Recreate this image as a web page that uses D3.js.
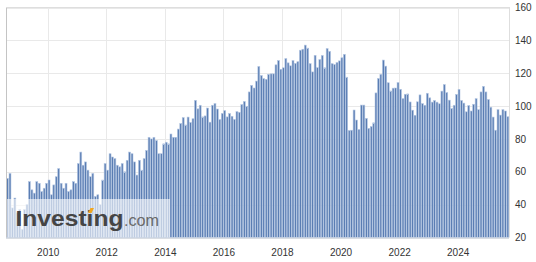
<!DOCTYPE html>
<html><head><meta charset="utf-8">
<script src="https://cdn.jsdelivr.net/npm/d3@7"></script>
<style>
html,body{margin:0;padding:0;background:#fff;}
svg{display:block;}
text{font-family:"Liberation Sans", Arial, sans-serif;}
</style></head><body>
<svg id="chart" width="536" height="262"></svg>
<script>
// Monthly values, one array per year (2008 starts in August, 2025 ends in September)
const v2008 = [56, 59, 38, 44, 35];
const v2009 = [37, 25, 37, 40, 54, 49, 47, 54, 53, 48, 50, 53];
const v2010 = [55, 46, 52, 57, 62, 53, 50, 53, 48, 49, 54, 53];
const v2011 = [65, 72, 64, 66, 61, 57, 59, 45, 46, 40, 55, 65];
const v2012 = [61, 71, 69, 68, 64, 63, 65, 60, 67, 72, 71, 66];
const v2013 = [58, 67, 61, 68, 73, 81, 80, 81, 79, 71, 71, 77];
const v2014 = [78, 77, 83, 81, 81, 86, 89.5, 93, 88.5, 93.3, 90, 92.3];
const v2015 = [103.5, 98.3, 100.5, 93.4, 94, 98.8, 90.2, 100.5, 101.5, 98.2, 91.8, 95.5];
const v2016 = [97.2, 93.4, 95.5, 93.8, 91.9, 96.6, 96.2, 100.9, 102.8, 99.9, 108.6, 112.6];
const v2017 = [111, 115.2, 124.1, 118.6, 116.7, 116.3, 119.3, 119.6, 119.6, 125.1, 127.7, 122.4];
const v2018 = [123.3, 128.9, 126.3, 124.5, 127.7, 126, 127, 134, 134.6, 137.1, 135.3, 125.8];
const v2019 = [120.8, 130.9, 123.4, 128.3, 130.8, 123.3, 135, 133.3, 125.8, 125.3, 126.5, 127.5];
const v2020 = [129.4, 131.5, 117.6, 85.1, 85.3, 97.6, 91.5, 85.7, 100.6, 100.6, 92.5, 86.4];
const v2021 = [87.5, 89.8, 108, 116.8, 119.3, 128, 124.3, 114.2, 109.2, 110.9, 111, 114.3];
const v2022 = [110.2, 104.5, 107.2, 107.4, 102.5, 97.5, 94.4, 102.6, 106.8, 101.5, 100.5, 107.8];
const v2023 = [105, 102.4, 103.4, 102.4, 101.4, 109.1, 113.1, 108.2, 103.6, 98.6, 100.5, 107.1];
const v2024 = [110.2, 103.4, 101.8, 96.5, 100.4, 97, 101.1, 104.5, 97.8, 108.6, 112, 108.6];
const v2025 = [104, 99.3, 93.3, 85.3, 97.8, 94.5, 97.8, 97, 93.5];

const firstYear = 2008, firstMonthIndex = 7; // August 2008
const yTicks = [20, 40, 60, 80, 100, 120, 140, 160];
const xTickYears = [2010, 2012, 2014, 2016, 2018, 2020, 2022, 2024];

const values = [].concat(v2008, v2009, v2010, v2011, v2012, v2013, v2014, v2015,
  v2016, v2017, v2018, v2019, v2020, v2021, v2022, v2023, v2024, v2025);
const data = values.map((v, i) => ({ date: new Date(firstYear, firstMonthIndex + i, 18), value: v }));

const svg = d3.select("#chart");
const L = 6, R = 509, T = 7.5, B = 237.5;

const x = d3.scaleTime()
  .domain([new Date(2008, 6, 30), new Date(2025, 9, 2)])
  .range([L, R]);
const y = d3.scaleLinear().domain([20, 160]).range([B, T]);

// gridlines
svg.append("g").selectAll("line").data(yTicks).join("line")
  .attr("x1", L).attr("x2", R)
  .attr("y1", d => Math.round(y(d)) + 0.5).attr("y2", d => Math.round(y(d)) + 0.5)
  .attr("stroke", "#e9e9e9");
svg.append("g").selectAll("line").data(xTickYears).join("line")
  .attr("x1", d => Math.round(x(new Date(d, 0, 1))) + 0.5)
  .attr("x2", d => Math.round(x(new Date(d, 0, 1))) + 0.5)
  .attr("y1", T).attr("y2", B)
  .attr("stroke", "#e9e9e9");

// bars
const bw = 1.9;
svg.append("g").selectAll("rect").data(data).join("rect")
  .attr("x", d => x(d.date) - bw / 2)
  .attr("width", bw)
  .attr("y", d => y(d.value))
  .attr("height", d => B - y(d.value))
  .attr("fill", "#5a7db3")
  .attr("stroke", "#b6c8e3")
  .attr("stroke-width", 0.6);

// watermark
const wm = svg.append("g");
wm.append("rect").attr("x", L + 1).attr("y", 199).attr("width", 163).attr("height", B - 199)
  .attr("fill", "#ffffff").attr("fill-opacity", 0.6);
wm.append("text").attr("x", 15.5).attr("y", 226)
  .attr("font-size", 22).attr("font-weight", "bold")
  .attr("textLength", 108).attr("lengthAdjust", "spacingAndGlyphs")
  .attr("fill", "#454545").text("Investing");
wm.append("text").attr("x", 124).attr("y", 226)
  .attr("font-size", 16).attr("textLength", 35).attr("lengthAdjust", "spacingAndGlyphs")
  .attr("fill", "#6a6a6a").text(".com");
wm.append("polygon").attr("points", "88,213 90.5,208 94,208 91.5,213")
  .attr("fill", "#f2a61d");

// frame
svg.append("line").attr("x1", L + 0.5).attr("x2", L + 0.5).attr("y1", 7).attr("y2", B).attr("stroke", "#c4c4c4");
svg.append("line").attr("x1", L).attr("x2", R).attr("y1", 7.5).attr("y2", 7.5).attr("stroke", "#dedede");
svg.append("line").attr("x1", R + 0.5).attr("x2", R + 0.5).attr("y1", 7).attr("y2", B).attr("stroke", "#dedede");
svg.append("line").attr("x1", L).attr("x2", R).attr("y1", B + 0.5).attr("y2", B + 0.5).attr("stroke", "#c9d1dd");

// axes
const yAxis = svg.append("g").attr("transform", `translate(${R},0)`)
  .call(d3.axisRight(y).tickValues(yTicks).tickSize(0).tickPadding(6));
yAxis.select(".domain").remove();
yAxis.selectAll("text").attr("font-size", 10).attr("fill", "#333").attr("font-family", "Liberation Sans, Arial, sans-serif");

const xAxis = svg.append("g").attr("transform", `translate(0,${B})`)
  .call(d3.axisBottom(x).tickValues(xTickYears.map(yr => new Date(yr, 0, 1)))
    .tickFormat(d3.timeFormat("%Y")).tickSize(0).tickPadding(11.5));
xAxis.select(".domain").remove();
xAxis.selectAll("text").attr("font-size", 10).attr("fill", "#333").attr("font-family", "Liberation Sans, Arial, sans-serif");
</script>
</body></html>
